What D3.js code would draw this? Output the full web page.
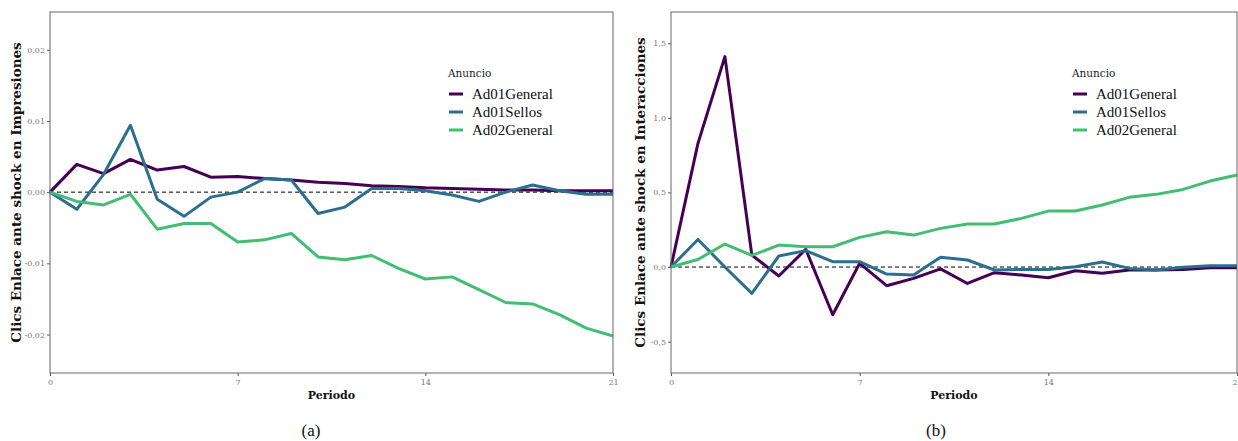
<!DOCTYPE html>
<html>
<head>
<meta charset="utf-8">
<script src="https://cdn.jsdelivr.net/npm/d3@7"></script>
<style>
  body { margin: 0; background: #fff; }
  svg { display: block; }
</style>
</head>
<body>
<div class="mainCont"></div>
<script>
var periods = d3.range(0, 22);
var seriesNames = ["Ad01General", "Ad01Sellos", "Ad02General"];
var xTicks = [0, 7, 14, 21];

// panel (a): response of Clics Enlace to shock in Impresiones
var impGeneral1 = [0, 0.0039, 0.0026, 0.0046, 0.0031, 0.0036, 0.0021, 0.0022, 0.0019, 0.0017, 0.0014,
    0.0012, 0.0009, 0.0008, 0.0006, 0.0005, 0.0004, 0.0003, 0.0003, 0.0002, 0.0002, 0.0002];
var impSellos = [0, -0.0024, 0.0025, 0.0094, -0.0010, -0.0034, -0.0007, 0.0000, 0.0019, 0.0017, -0.0030,
    -0.0021, 0.0005, 0.0005, 0.0002, -0.0004, -0.0013, 0.0000, 0.0010, 0.0002, -0.0003, -0.0003];
var impGeneral2 = [0, -0.0013, -0.0018, -0.0003, -0.0052, -0.0044, -0.0044, -0.0070, -0.0067, -0.0058, -0.0091,
    -0.0095, -0.0089, -0.0107, -0.0122, -0.0119, -0.0137, -0.0155, -0.0157, -0.0172, -0.0191, -0.0202];
var impTicks = [-0.02, -0.01, 0, 0.01, 0.02];

// panel (b): response of Clics Enlace to shock in Interacciones
var intGeneral1 = [0, 0.829, 1.41, 0.08, -0.06, 0.119, -0.32, 0.025, -0.125, -0.076, -0.012,
    -0.11, -0.038, -0.054, -0.072, -0.025, -0.042, -0.02, -0.02, -0.016, -0.005, -0.005];
var intSellos = [0, 0.185, 0.0, -0.176, 0.074, 0.11, 0.036, 0.036, -0.047, -0.054, 0.065,
    0.047, -0.02, -0.016, -0.016, 0.002, 0.034, -0.009, -0.02, -0.002, 0.009, 0.009];
var intGeneral2 = [0, 0.051, 0.154, 0.078, 0.147, 0.136, 0.136, 0.199, 0.237, 0.214, 0.259,
    0.288, 0.288, 0.326, 0.375, 0.375, 0.416, 0.467, 0.487, 0.52, 0.576, 0.617];
var intTicks = [-0.5, 0, 0.5, 1.0, 1.5];

var color = d3.scaleOrdinal()
    .domain(seriesNames)
    .range(["#440154", "#2c6e8e", "#42be71"]);

var fmtComma = function(dec) {
    var f = d3.format("." + dec + "f");
    return function(d) { return f(d).replace(".", ",").replace("−", "-"); };
};

var svg = d3.select(".mainCont").append("svg")
    .attr("width", 1238)
    .attr("height", 441);

function drawPanel(p) {
    var x = d3.scaleLinear().domain([0, 21]).range([p.left, p.right]);
    var y = d3.scaleLinear().domain(p.yDomain).range([p.bottom, p.top]);
    var g = svg.append("g");

    // x axis
    g.append("g")
        .attr("transform", "translate(0," + p.bottom + ")")
        .call(d3.axisBottom(x).tickValues(xTicks).tickSize(3).tickPadding(3))
        .call(function(a) {
            a.select(".domain").remove();
            a.selectAll("line").attr("stroke", "#555");
            a.selectAll("text").attr("fill", "#777").style("font-family", "'DejaVu Serif', serif").style("font-size", "8px");
        });

    // y axis
    g.append("g")
        .attr("transform", "translate(" + p.left + ",0)")
        .call(d3.axisLeft(y).tickValues(p.yTicks).tickSize(3).tickPadding(2).tickFormat(fmtComma(p.dec)))
        .call(function(a) {
            a.select(".domain").remove();
            a.selectAll("line").attr("stroke", "#555");
            a.selectAll("text").attr("fill", "#777").style("font-family", "'DejaVu Serif', serif").style("font-size", "8px");
        });

    // zero reference line
    g.append("line")
        .attr("x1", p.left).attr("x2", p.right)
        .attr("y1", y(0)).attr("y2", y(0))
        .attr("stroke", "#000")
        .attr("stroke-width", 1)
        .attr("stroke-dasharray", "4,3");

    var line = d3.line()
        .x(function(d, i) { return x(periods[i]); })
        .y(function(d) { return y(d); });

    p.series.forEach(function(s, i) {
        g.append("path")
            .datum(s)
            .attr("d", line)
            .attr("fill", "none")
            .attr("stroke", color(seriesNames[i]))
            .attr("stroke-width", 3)
            .attr("stroke-linejoin", "round");
    });

    // panel border
    g.append("rect")
        .attr("x", p.left).attr("y", p.top)
        .attr("width", p.right - p.left).attr("height", p.bottom - p.top)
        .attr("fill", "none")
        .attr("stroke", "#666")
        .attr("stroke-width", 1);

    // axis titles
    g.append("text")
        .attr("transform", "translate(" + p.yTitleX + "," + ((p.top + p.bottom) / 2) + ") rotate(-90)")
        .attr("text-anchor", "middle")
        .style("font-family", "'DejaVu Serif', serif")
        .style("font-weight", "bold")
        .style("font-size", "13.5px")
        .attr("fill", "#111")
        .text(p.yTitle);

    g.append("text")
        .attr("x", (p.left + p.right) / 2)
        .attr("y", 399)
        .attr("text-anchor", "middle")
        .style("font-family", "'DejaVu Serif', serif")
        .style("font-weight", "bold")
        .style("font-size", "11px")
        .attr("fill", "#111")
        .text("Periodo");

    // legend
    var lg = g.append("g").attr("transform", "translate(" + p.legX + ",0)");
    lg.append("text")
        .attr("x", 0).attr("y", 77)
        .style("font-family", "'DejaVu Serif', serif")
        .style("font-size", "10.5px")
        .attr("fill", "#222")
        .text("Anuncio");
    seriesNames.forEach(function(n, i) {
        var yy = 94 + i * 18;
        lg.append("line")
            .attr("x1", 1).attr("x2", 15)
            .attr("y1", yy).attr("y2", yy)
            .attr("stroke", color(n))
            .attr("stroke-width", 3);
        lg.append("text")
            .attr("x", 24).attr("y", yy + 5)
            .style("font-family", "'Liberation Serif', serif")
            .style("font-size", "15px")
            .attr("fill", "#111")
            .text(n);
    });

    // caption
    g.append("text")
        .attr("x", p.capX).attr("y", 436)
        .attr("text-anchor", "middle")
        .style("font-family", "'Liberation Serif', serif")
        .style("font-size", "17px")
        .attr("fill", "#111")
        .text(p.caption);
}

drawPanel({
    left: 50, right: 613, top: 12, bottom: 373,
    yDomain: [-0.0254, 0.0253], yTicks: impTicks, dec: 2,
    series: [impGeneral1, impSellos, impGeneral2],
    yTitle: "Clics Enlace ante shock en Impresiones", yTitleX: 21,
    legX: 448, capX: 311, caption: "(a)"
});

drawPanel({
    left: 671, right: 1237, top: 12, bottom: 373,
    yDomain: [-0.71, 1.709], yTicks: intTicks, dec: 1,
    series: [intGeneral1, intSellos, intGeneral2],
    yTitle: "Clics Enlace ante shock en Interacciones", yTitleX: 645,
    legX: 1072, capX: 936, caption: "(b)"
});
</script>
</body>
</html>
